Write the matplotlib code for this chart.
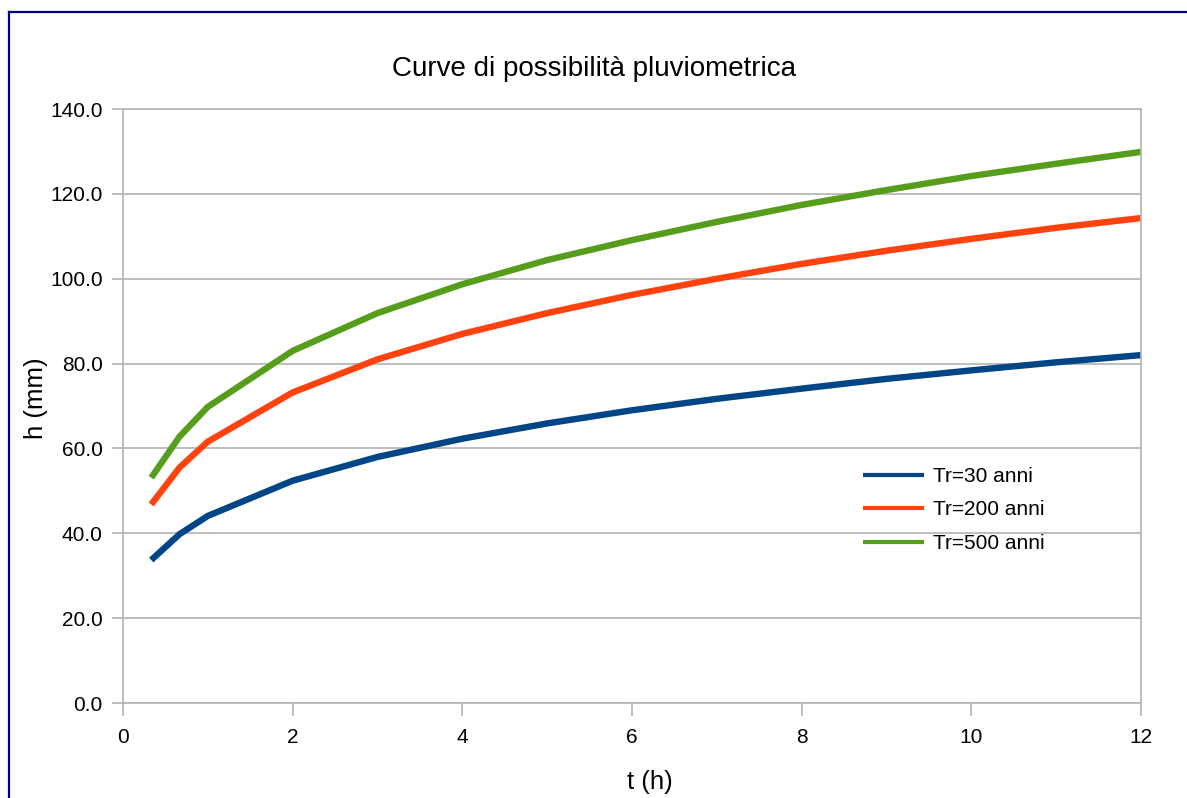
#!/usr/bin/env python3
# -*- coding: utf-8 -*-
"""Curve di possibilità pluviometrica per tre tempi di ritorno."""
import matplotlib
matplotlib.use("Agg")
import matplotlib.pyplot as plt
from matplotlib.lines import Line2D

# durata (ore)
t_ore = [0.333, 0.667, 1, 2, 3, 4, 5, 6, 7, 8, 9, 10, 11, 12]

# altezza di pioggia (mm)
h_tr30 = [33.7, 39.8, 44.1, 52.4, 58.0, 62.3, 65.9, 69.0, 71.7, 74.1, 76.4, 78.4, 80.3, 82.0]
h_tr200 = [46.8, 55.5, 61.6, 73.2, 81.0, 87.0, 91.9, 96.2, 100.0, 103.5, 106.6, 109.4, 112.0, 114.3]
h_tr500 = [53.1, 62.8, 69.8, 83.0, 91.9, 98.7, 104.4, 109.1, 113.4, 117.4, 120.9, 124.2, 127.1, 129.9]

labels = ["Tr=30 anni", "Tr=200 anni", "Tr=500 anni"]
colors = ["#004586", "#ff420e", "#579d1c"]

x_ticks = [0, 2, 4, 6, 8, 10, 12]
y_ticks = [0, 20, 40, 60, 80, 100, 120, 140]

plt.rcParams["font.family"] = ["Liberation Sans", "DejaVu Sans"]

fig = plt.figure(figsize=(11.87, 7.98), dpi=100)
ax = fig.add_axes([0.1036, 0.1190, 0.8577, 0.7444])

for h, lab, col in zip([h_tr30, h_tr200, h_tr500], labels, colors):
    ax.plot(t_ore, h, color=col, linewidth=4.6, label=lab,
            solid_joinstyle="miter", solid_capstyle="butt")

ax.set_xlim(0, 12)
ax.set_ylim(0, 140)
ax.set_xticks(x_ticks)
ax.set_yticks(y_ticks)
ax.set_yticklabels([f"{v:.1f}" for v in y_ticks])
ax.tick_params(axis="both", colors="#b3b3b3", labelcolor="black",
               labelsize=15, width=1.2)
ax.tick_params(axis="x", length=9, pad=9)
ax.tick_params(axis="y", length=8, pad=6.5)

ax.grid(axis="y", color="#b3b3b3", linewidth=1.2)
ax.set_axisbelow(True)
for side in ["left", "right", "bottom", "top"]:
    ax.spines[side].set_color("#b3b3b3")
    ax.spines[side].set_linewidth(1.2)

ax.set_xlabel("t (h)", fontsize=18.5)
ax.set_ylabel("h (mm)", fontsize=18.5)
ax.xaxis.set_label_coords(0.5177, -0.1128)
ax.yaxis.set_label_coords(-0.0737, 0.5135)
# titolo centrato sull'intera pagina
fig.text(0.5, 1 - 69 / 798, "Curve di possibilità pluviometrica",
         fontsize=20, ha="center", va="center")

leg = ax.legend(loc="upper left", bbox_to_anchor=(0.719, 0.4116), frameon=False,
                fontsize=15, handlelength=2.9, handletextpad=0.45,
                labelspacing=0.7, borderaxespad=0)
for line in leg.get_lines():
    line.set_linewidth(3)

# cornice blu della pagina (solo lati sinistro e superiore visibili)
fig.add_artist(Line2D([9 / 1187, 9 / 1187], [-0.05, 1 - 12 / 798],
                      transform=fig.transFigure, color="#000080", linewidth=1.6))
fig.add_artist(Line2D([9 / 1187, 1.05], [1 - 12 / 798, 1 - 12 / 798],
                      transform=fig.transFigure, color="#000080", linewidth=1.6))

fig.savefig("out.png", dpi=100)
